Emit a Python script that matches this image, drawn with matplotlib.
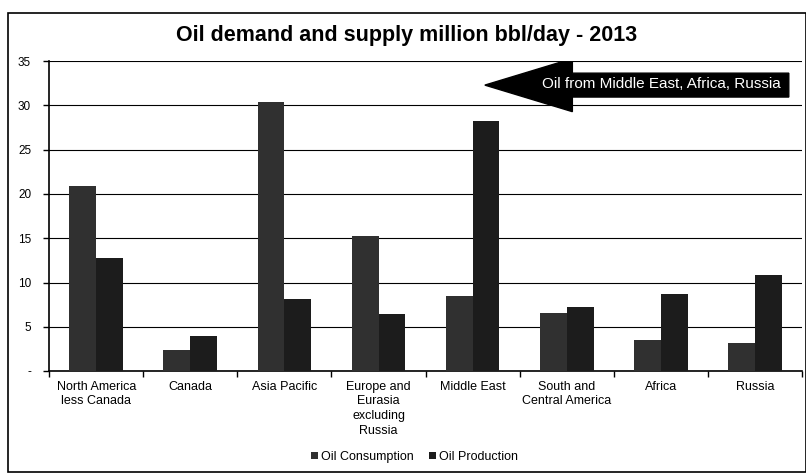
import numpy as np
import matplotlib
matplotlib.use("Agg")
import matplotlib.pyplot as plt
from matplotlib.patches import FancyArrow, Rectangle

plt.rcParams['font.family'] = ['Liberation Sans', 'DejaVu Sans']

regions = ['North America\nless Canada', 'Canada', 'Asia Pacific',
           'Europe and\nEurasia\nexcluding\nRussia', 'Middle East',
           'South and\nCentral America', 'Africa', 'Russia']
consumption = [20.9, 2.4, 30.4, 15.3, 8.5, 6.6, 3.5, 3.2]
production = [12.8, 4.0, 8.1, 6.4, 28.3, 7.2, 8.7, 10.8]
y_ticks = [0, 5, 10, 15, 20, 25, 30, 35]
y_labels = ['-', '5', '10', '15', '20', '25', '30', '35']

fig = plt.figure(figsize=(8.06, 4.73), dpi=100)
ax = fig.add_axes([0.061, 0.2156, 0.934, 0.655])

x = np.arange(len(regions))
w = 0.285
ax.bar(x - w / 2, consumption, w, color='#303030', label='Oil Consumption', zorder=3)
ax.bar(x + w / 2, production, w, color='#1c1c1c', label='Oil Production', zorder=3)

ax.set_xlim(-0.5, len(regions) - 0.5)
ax.set_ylim(0, 35)
ax.set_yticks(y_ticks)
ax.set_yticklabels(y_labels, fontsize=8.5)
ax.yaxis.grid(True, color='black', lw=0.8)
ax.set_axisbelow(True)

ax.set_xticks(x)
ax.set_xticklabels(regions, fontsize=9, linespacing=1.3)
ax.set_xticks(np.arange(len(regions) + 1) - 0.5, minor=True)
ax.tick_params(axis='x', which='major', length=0, pad=7)
ax.tick_params(axis='x', which='minor', length=4, width=1, direction='out')
ax.tick_params(axis='y', length=4, width=1, direction='out', pad=9)
for s in ['top', 'right']:
    ax.spines[s].set_visible(False)
for s in ['left', 'bottom']:
    ax.spines[s].set_linewidth(1.2)

# arrow annotation
ax.add_patch(FancyArrow(7.36, 32.3, -3.23, 0, width=2.7, head_width=6.0,
                        head_length=0.93, length_includes_head=True,
                        color='black', zorder=4))
ax.text(7.27, 32.4, 'Oil from Middle East, Africa, Russia', color='white',
        fontsize=11, ha='right', va='center', zorder=5)

fig.text(0.504, 0.926, 'Oil demand and supply million bbl/day - 2013',
         ha='center', va='center', fontsize=15.5, fontweight='bold')

fig.legend(loc='center', bbox_to_anchor=(0.514, 0.034), ncol=2, frameon=False,
           fontsize=9, handlelength=0.6, handleheight=0.6, handletextpad=0.2,
           columnspacing=1.2)

fig.patches.append(Rectangle((0.01, 0.002), 0.99, 0.971, transform=fig.transFigure,
                             fill=False, lw=1.2, edgecolor='black'))

fig.savefig('out.png', dpi=100)
